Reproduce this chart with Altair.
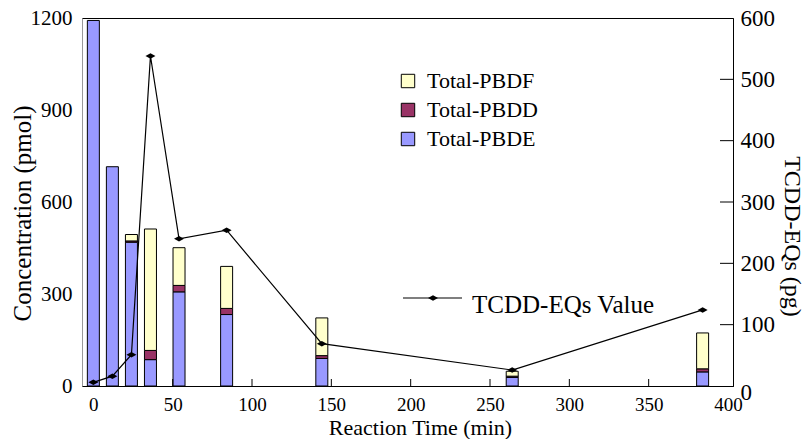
import altair as alt
import pandas as pd

# ---- data ----
times = [0, 12, 24, 36, 54, 84, 144, 264, 384]
pbde = [1192, 715, 469, 86, 307, 233, 90, 28, 46]
pbdd = [0, 0, 4, 30, 21, 20, 9, 4, 10]
pbdf = [0, 0, 21, 396, 123, 137, 123, 16, 117]
tcdd = [6, 16, 51, 538, 240, 254, 69, 26, 124]

series_names = ["Total-PBDF", "Total-PBDD", "Total-PBDE"]
series_colors = ["#FFFFCC", "#993366", "#9999FF"]
x_ticks = [0, 50, 100, 150, 200, 250, 300, 350, 400]
x_inner_ticks = [50, 100, 150, 200, 250, 300, 350]
left_ticks = [0, 300, 600, 900, 1200]
right_ticks = [0, 100, 200, 300, 400, 500, 600]
right_inner_ticks = [100, 200, 300, 400, 500]
line_label = ["TCDD-EQs Value"]

rows = []
for i, t in enumerate(times):
    for name, vals, order in [("Total-PBDE", pbde, 0), ("Total-PBDD", pbdd, 1), ("Total-PBDF", pbdf, 2)]:
        if vals[i] > 0:
            rows.append({"time": t, "series": name, "value": vals[i], "order": order})
bars_df = pd.DataFrame(rows)
line_df = pd.DataFrame({"time": times, "tcdd": tcdd})

W, H = 651, 368
FONT = "Liberation Serif"
DIAMOND = "M-1,0L0,-0.55L1,0L0,0.55Z"

xscale = alt.Scale(domain=[-4, 400], nice=False, zero=False)
xaxis = alt.Axis(values=x_ticks, ticks=False, grid=False, labelPadding=9, labelFontSize=19,
                 labelFont=FONT, domainColor="black", format="d",
                 title="Reaction Time (min)", titleFontSize=22, titleFont=FONT,
                 titleFontWeight="normal",
                 titleX=338, titleY=48, titleBaseline="alphabetic", titleAlign="center",
                 titleAnchor="start")
lscale = alt.Scale(domain=[0, 1200], nice=False)
rscale = alt.Scale(domain=[0, 600], nice=False)

bars = alt.Chart(bars_df).mark_bar(size=12, stroke="black", strokeWidth=1).encode(
    x=alt.X("time:Q", scale=xscale, axis=xaxis),
    y=alt.Y("value:Q", stack="zero", scale=lscale,
            axis=alt.Axis(values=left_ticks, ticks=False, grid=False, labelPadding=10, format="d",
                          labelFontSize=21, labelFont=FONT, domainColor="#999999",
                          title="Concentration  (pmol)", titleFontSize=25, titleFont=FONT,
                          titleFontWeight="normal",
                          titleX=-60, titleY=195, titleBaseline="middle", titleAlign="center",
                          titleAnchor="start")),
    fill=alt.Fill("series:N", scale=alt.Scale(domain=series_names, range=series_colors),
                  legend=alt.Legend(title=None, orient="none", legendX=315, legendY=52,
                                    symbolType="square", symbolSize=180,
                                    symbolStrokeColor="black", symbolStrokeWidth=1,
                                    labelFontSize=22, labelFont=FONT, labelOffset=8,
                                    labelColor="black",
                                    rowPadding=7, padding=0, symbolOpacity=1)),
    order=alt.Order("order:Q"),
)

xticks_layer = alt.Chart(pd.DataFrame({"v": x_inner_ticks})).mark_rule(color="black").encode(
    x=alt.X("v:Q", scale=xscale, axis=xaxis),
    y=alt.value(H - 7),
    y2=alt.value(H),
)

left_layer = alt.layer(bars, xticks_layer)

raxis = alt.Axis(orient="right", values=right_ticks, ticks=False, grid=False, format="d",
                 labelPadding=7,
                 labelOffset={"condition": {"test": "datum.value === 0", "value": 6}, "value": 0},
                 labelFontSize=23, labelFont=FONT, domainColor="black",
                 title="TCDD-EQs (pg)", titleFontSize=24, titleFont=FONT, titleAngle=90,
                 titleFontWeight="normal",
                 titleX=58, titleY=218, titleBaseline="middle", titleAlign="center",
                 titleAnchor="start")

line = alt.Chart(line_df).mark_line(color="black", strokeWidth=1.2).encode(
    x=alt.X("time:Q", scale=xscale, axis=xaxis),
    y=alt.Y("tcdd:Q", scale=rscale, axis=raxis),
)
pts = alt.Chart(line_df).mark_point(shape=DIAMOND, filled=True, color="black", size=100, opacity=1).encode(
    x=alt.X("time:Q", scale=xscale, axis=xaxis),
    y=alt.Y("tcdd:Q", scale=rscale, axis=raxis),
)
rticks_layer = alt.Chart(pd.DataFrame({"v": right_inner_ticks})).mark_rule(color="black").encode(
    y=alt.Y("v:Q", scale=rscale, axis=raxis),
    x=alt.value(W - 13),
    x2=alt.value(W),
)

# legend entry for the line
leg_df = pd.DataFrame({"t": line_label})
leg_rule = alt.Chart(leg_df).mark_rule(color="black", strokeWidth=1.2).encode(
    x=alt.value(321), x2=alt.value(380), y=alt.value(280))
leg_pt = alt.Chart(leg_df).mark_point(shape=DIAMOND, filled=True, color="black", size=100, opacity=1).encode(
    x=alt.value(351), y=alt.value(280))
leg_txt = alt.Chart(leg_df).mark_text(align="left", baseline="alphabetic", font=FONT,
                                      fontSize=25, color="black").encode(
    x=alt.value(390), y=alt.value(295), text="t:N")

right_layer = alt.layer(line, pts, rticks_layer)

chart = alt.layer(left_layer, right_layer, leg_rule, leg_pt, leg_txt).resolve_scale(
    y="independent"
).properties(
    width=W, height=H,
    background="white",
    padding={"left": 82, "top": 18, "right": 73, "bottom": 53},
    autosize=alt.AutoSizeParams(type="none"),
).configure_view(stroke="black", strokeWidth=1).configure_axis(
    labelColor="black", titleColor="black", titleFontWeight="normal"
)

chart.save("out.html", embed_options={"renderer": "svg", "actions": False})
